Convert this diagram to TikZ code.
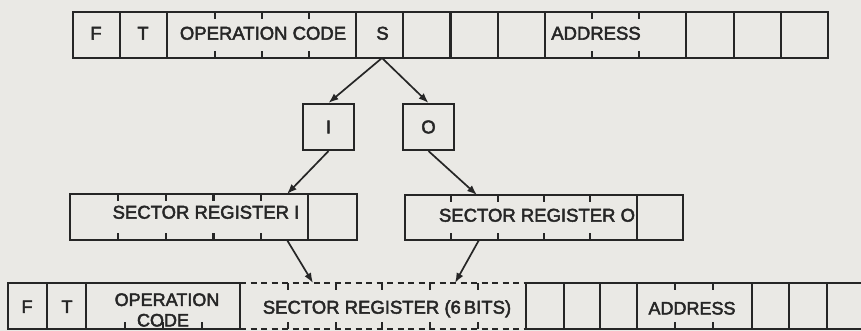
\documentclass[tikz,border=0pt]{standalone}
\usepackage{fontspec}
\newfontfamily\lettering[FakeBold=2.5]{Liberation Sans}
\usetikzlibrary{arrows.meta}
\definecolor{paper}{RGB}{234,233,229}
\definecolor{ink}{RGB}{38,38,38}
\begin{document}
\begin{tikzpicture}[x=1pt,y=-1pt,line width=2.1pt,draw=ink,
  lbl/.style={font=\lettering\fontsize{18.5}{21}\selectfont,text=ink,inner sep=0pt,text height=13.3pt,text depth=0pt},
  lbls/.style={lbl,font=\lettering\fontsize{18}{20}\selectfont,text height=12.9pt},
  arr/.style={-{Latex[length=10pt,width=7.5pt]},line width=1.7pt,draw=ink},
  bitbox/.style={draw=ink,line width=2.1pt,minimum width=51pt,minimum height=46pt,inner sep=0pt,font=\lettering\fontsize{18.5}{21}\selectfont,text=ink},
  dsh/.style={dash pattern=on 6pt off 4.5pt}]
\useasboundingbox (0,0) rectangle (861,331);
\clip (0,0) rectangle (861,331);
\fill[paper] (0,0) rectangle (861,331);

% ---------- top word ----------
\draw (73,12) rectangle (828,58);
\foreach \k in {1,2,6,7,8,9,10,13,14,15} \draw ({73+47.1875*\k},12) -- ++(0,46);
\foreach \k in {3,4,5,11,12} {\draw ({73+47.1875*\k},12) -- ++(0,7); \draw ({73+47.1875*\k},58) -- ++(0,-7);}
\node[lbl] (tF) at (96,33) {F};
\node[lbl] (tT) at (143,33) {T};
\node[lbl] (tOP) at (263,33) {OPERATION CODE};
\node[lbl] (tS) at (382.5,33) {S};
\node[lbl] (tAD) at (596,33) {ADDRESS};
\coordinate (Sb) at (382,58);

% ---------- I / O boxes ----------
\node[bitbox] (boxI) at (328.5,127) {I};
\node[bitbox] (boxO) at (428.5,127) {O};

% ---------- sector register I ----------
\draw (70,194) rectangle (357,240);
\foreach \k in {1,2,3,4} {\draw ({70+47.83*\k},194) -- ++(0,7); \draw ({70+47.83*\k},240) -- ++(0,-7);}
\draw (308,194) -- (308,240);
\node[lbl] (rIlbl) at (206,212) {SECTOR REGISTER I};
\coordinate (rIt) at (287,194);
\coordinate (rIb) at (287,240);

% ---------- sector register O ----------
\draw (405,195) rectangle (683,240);
\foreach \k in {1,2,3,4} {\draw ({405+46.33*\k},195) -- ++(0,7); \draw ({405+46.33*\k},240) -- ++(0,-7);}
\draw (637,195) -- (637,240);
\node[lbl] (rOlbl) at (537,215) {SECTOR REGISTER O};
\coordinate (rOt) at (477,195);
\coordinate (rOb) at (479,240);

% ---------- bottom word ----------
\draw (8,283) rectangle (240,329);
\draw (47,283) -- (47,329);
\draw (86,283) -- (86,329);
\foreach \x in {125,163,202} \draw (\x,329) -- ++(0,-7);
\node[lbls] (bF) at (27,306.5) {F};
\node[lbls] (bT) at (67,306.5) {T};
\node[lbls] (bOP1) at (167,299.5) {OPERATION};
\node[lbls] (bOP2) at (163,320) {CODE};

\draw[dsh] (240,283) -- (526,283);
\draw[dsh] (240,329) -- (526,329);
\foreach \x in {288,336,382,430,478} {\draw (\x,283) -- ++(0,7); \draw (\x,329) -- ++(0,-7);}
\node[lbl] (bSR) at (387,307) {SECTOR REGISTER (6\kern3pt BITS)};

\draw (526,283) -- (526,329);
\draw (526,283) -- (880,283);
\draw (526,329) -- (880,329);
\foreach \x in {564,600,637,752,789,827} \draw (\x,283) -- (\x,329);
\foreach \x in {675,713} {\draw (\x,283) -- ++(0,7); \draw (\x,329) -- ++(0,-7);}
\node[lbls] (bAD) at (692,308) {ADDRESS};
\coordinate (b1) at (313,283);
\coordinate (b2) at (455,283);

% ---------- arrows ----------
\draw[arr] (Sb) -- (boxI.north);
\draw[arr] (Sb) -- (boxO.north);
\draw[arr] (boxI.south) -- (rIt);
\draw[arr] (boxO.south) -- (rOt);
\draw[arr] (rIb) -- (b1);
\draw[arr] (rOb) -- (b2);
\end{tikzpicture}
\end{document}
